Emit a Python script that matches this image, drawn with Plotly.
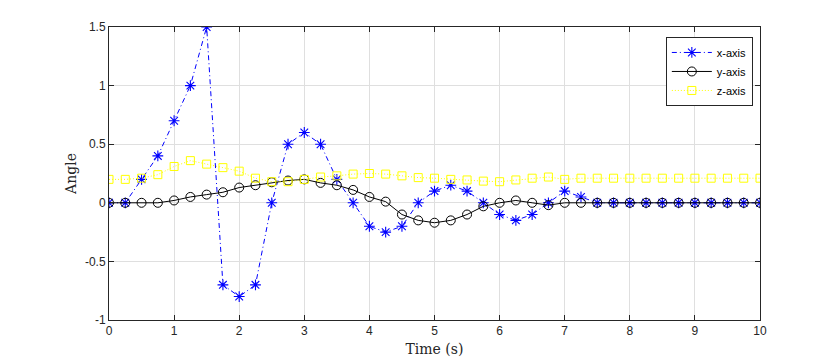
import plotly.graph_objects as go

t = [i * 0.25 for i in range(41)]

x_axis = [0, 0, 0.2, 0.4, 0.7, 1.0, 1.5, -0.7, -0.8, -0.7,
          0, 0.5, 0.6, 0.5, 0.2, 0, -0.2, -0.25, -0.2, 0,
          0.1, 0.15, 0.1, 0, -0.1, -0.15, -0.1, 0, 0.1, 0.05,
          0, 0, 0, 0, 0, 0, 0, 0, 0, 0, 0]

y_axis = [0, 0, 0, 0, 0.02, 0.05, 0.07, 0.09, 0.13, 0.15,
          0.175, 0.19, 0.2, 0.17, 0.15, 0.11, 0.05, 0.01, -0.1, -0.15,
          -0.17, -0.15, -0.1, -0.03, 0, 0.02, 0, -0.02, 0, 0,
          0, 0, 0, 0, 0, 0, 0, 0, 0, 0, 0]

z_axis = [0.2, 0.2, 0.21, 0.24, 0.31, 0.36, 0.33, 0.3, 0.27, 0.21,
          0.18, 0.18, 0.2, 0.22, 0.23, 0.245, 0.25, 0.245, 0.23, 0.215,
          0.21, 0.2, 0.195, 0.185, 0.18, 0.195, 0.21, 0.22, 0.2, 0.21,
          0.21, 0.21, 0.21, 0.21, 0.21, 0.21, 0.21, 0.21, 0.21, 0.21, 0.21]

x_ticks = list(range(0, 11))
y_ticks = [-1, -0.5, 0, 0.5, 1, 1.5]
y_tick_labels = ["-1", "-0.5", "0", "0.5", "1", "1.5"]

fig = go.Figure()
fig.add_trace(go.Scatter(
    x=t, y=x_axis, name="x-axis", mode="lines+markers",
    line=dict(color="#0000ff", width=1, dash="5px,3px,1px,3px"),
    marker=dict(symbol="asterisk-open", size=9, color="#0000ff",
                line=dict(color="#0000ff", width=1.1))))
fig.add_trace(go.Scatter(
    x=t, y=y_axis, name="y-axis", mode="lines+markers",
    line=dict(color="#000000", width=1),
    marker=dict(symbol="circle-open", size=9, color="#000000",
                line=dict(color="#000000", width=1))))
fig.add_trace(go.Scatter(
    x=t, y=z_axis, name="z-axis", mode="lines+markers",
    line=dict(color="#ffff00", width=1, dash="1px,2px"),
    marker=dict(symbol="square-open", size=8, color="#ffff00",
                line=dict(color="#ffff00", width=1))))

axis_common = dict(
    showgrid=True, gridcolor="#dfdfdf", gridwidth=1,
    showline=True, linecolor="#262626", linewidth=1, mirror="ticks",
    ticks="inside", ticklen=5, tickcolor="#262626", tickwidth=1,
    zeroline=False, automargin=False,
    tickfont=dict(family="Liberation Sans, Arial, sans-serif", size=12, color="#262626"),
)

fig.update_layout(
    width=837, height=360,
    margin=dict(l=109, r=77, t=27, b=40),
    paper_bgcolor="white", plot_bgcolor="white",
    showlegend=True,
    legend=dict(x=0.989, y=0.966, xanchor="right", yanchor="top",
                bgcolor="white", bordercolor="#262626", borderwidth=1,
                font=dict(family="Liberation Sans, Arial, sans-serif", size=11, color="#000000"),
                tracegroupgap=0, itemwidth=40),
    xaxis=dict(range=[0, 10], tickvals=x_ticks,
               title=dict(text="Time (s)", standoff=6,
                          font=dict(family="DejaVu Serif, serif", size=14, color="#262626")),
               **axis_common),
    yaxis=dict(range=[-1, 1.5], tickvals=y_ticks, ticktext=y_tick_labels,
               title=dict(text="Angle", standoff=5,
                          font=dict(family="DejaVu Serif, serif", size=14, color="#262626")),
               **axis_common),
)

fig.write_html("out.html", config={"displayModeBar": False},
               post_script="document.body.style.margin='0';document.body.style.padding='0';")
